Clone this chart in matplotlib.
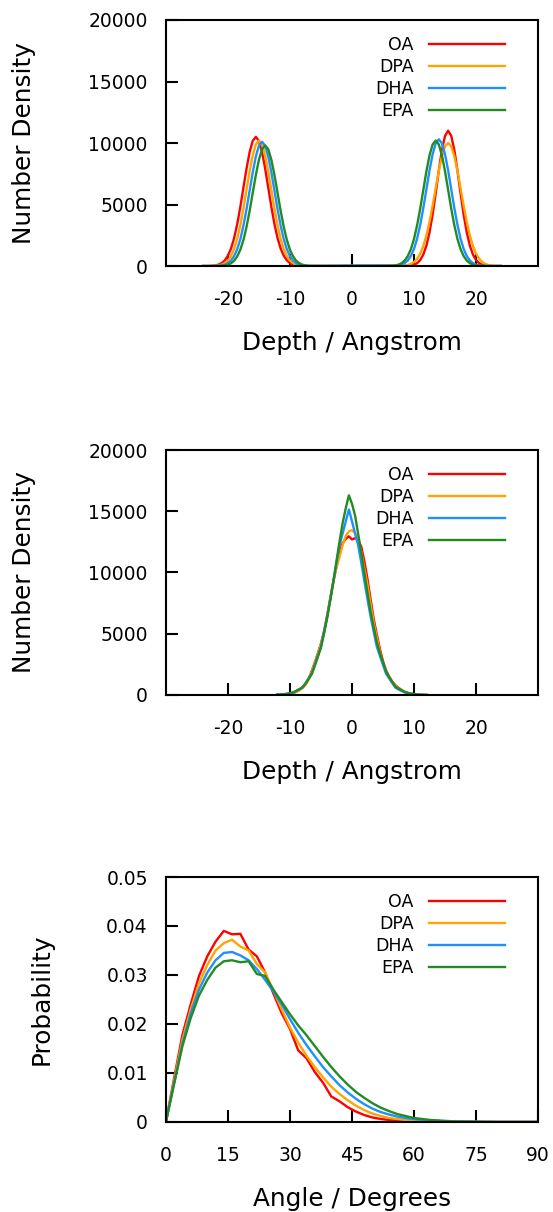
import numpy as np
import matplotlib
matplotlib.use('Agg')
import matplotlib.pyplot as plt
from matplotlib.ticker import FuncFormatter

plt.rcParams['font.family'] = 'DejaVu Sans'
plt.rcParams['axes.unicode_minus'] = False

labels = ['OA', 'DPA', 'DHA', 'EPA']
colors = ['#ff0000', '#ffa500', '#1e90ff', '#228b22']

# ---- panel 1: number density vs depth (two leaflets)
depth_left = np.arange(-24.0, -6.75, 0.5)
depth_mid = [-6.5, -5.0, -3.0, -1.0, 1.0, 3.0, 5.0, 6.5]
depth_right = np.arange(7.0, 24.25, 0.5)

oa_left = [0, 0, 5, 21, 53, 116, 242, 462, 840, 1418, 2268, 3413, 4809, 6374, 7928, 9261, 10175, 10500,
           10175, 9261, 7928, 6374, 4809, 3413, 2268, 1418, 840, 462, 242, 116, 53, 21, 5, 0, 0]
dpa_left = [0, 0, 0, 5, 20, 51, 112, 235, 449, 816, 1377, 2203, 3315, 4672, 6191, 7701, 8996, 9884, 10200,
            9884, 8996, 7701, 6191, 4672, 3315, 2203, 1377, 816, 449, 235, 112, 51, 20, 5, 0]
dha_left = [0, 0, 0, 0, 5, 20, 51, 111, 232, 444, 808, 1364, 2182, 3283, 4626, 6131, 7626, 8908, 9787, 10100,
            9787, 8908, 7626, 6131, 4626, 3283, 2182, 1364, 808, 444, 232, 111, 51, 20, 5]
epa_left = [0, 0, 0, 0, 0, 5, 20, 49, 108, 225, 431, 784, 1323, 2117, 3185, 4488, 5949, 7399, 8644, 9496, 9800,
            9496, 8644, 7399, 5949, 4488, 3185, 2117, 1323, 784, 431, 225, 108, 49, 20]

oa_mid = [0, 0, 0, 0, 0, 0, 0, 5]
dpa_mid = [0, 0, 0, 0, 0, 0, 2, 5]
dha_mid = [5, 10, 20, 35, 45, 40, 30, 15]
epa_mid = [12, 5, 3, 3, 5, 10, 20, 35]

oa_right = [0, 0, 0, 0, 16, 43, 103, 231, 484, 935, 1661, 2739, 4191, 5929, 7777, 9427, 10582, 11000,
            10582, 9427, 7777, 5929, 4191, 2739, 1661, 935, 484, 231, 103, 43, 16, 0, 0, 0, 0]
dpa_right = [0, 5, 17, 39, 84, 170, 320, 590, 1010, 1630, 2490, 3600, 4920, 6350, 7750, 8930, 9720, 10000,
             9720, 8930, 7750, 6350, 4920, 3600, 2490, 1630, 1010, 590, 320, 170, 84, 39, 17, 5, 0]
dha_right = [21, 52, 113, 237, 453, 824, 1391, 2225, 3348, 4717, 6252, 7777, 9085, 9981, 10300,
             9981, 9085, 7777, 6252, 4717, 3348, 2225, 1391, 824, 453, 237, 113, 52, 21, 5, 0, 0, 0, 0, 0]
epa_right = [51, 112, 235, 449, 816, 1377, 2203, 3315, 4672, 6191, 7701, 8996, 9884, 10200,
             9884, 8996, 7701, 6191, 4672, 3315, 2203, 1377, 816, 449, 235, 112, 51, 20, 5, 0, 0, 0, 0, 0, 0]

# ---- panel 2: number density vs depth (single peak), -12 .. 12 every 0.5
depth2 = np.arange(-12.0, 12.25, 0.5)
oa_2 = [10, 20, 35, 60, 100, 160, 260, 400, 590, 860, 1300, 1950, 2650, 3400, 4200, 5200, 6500, 7900,
        9250, 10500, 11600, 12400, 12750, 12950, 12700, 12800, 12650, 12100, 10900, 9450, 7800, 6200,
        4950, 3750, 2750, 2000, 1480, 1080, 800, 580, 400, 260, 170, 105, 65, 38, 20, 8, 0]
dpa_2 = [10, 20, 35, 60, 100, 160, 250, 380, 560, 820, 1250, 1900, 2600, 3350, 4150, 5050, 6400, 7850,
         9300, 10400, 11300, 12250, 13000, 13350, 13460, 13200, 12600, 11700, 10300, 9000, 7400, 5900,
         4700, 3550, 2600, 1950, 1450, 1050, 780, 560, 380, 250, 160, 100, 60, 35, 18, 8, 0]
dha_2 = [50, 55, 70, 100, 150, 220, 330, 450, 600, 960, 1350, 1730, 2450, 3200, 3943, 5170, 6400, 7820,
         9290, 10790, 12220, 13200, 14170, 15150, 14170, 13200, 12220, 10790, 9290, 7820, 6400, 5170,
         3943, 3200, 2450, 1730, 1350, 960, 600, 450, 330, 220, 150, 100, 60, 35, 18, 8, 0]
epa_2 = [13, 30, 47, 90, 140, 190, 320, 470, 620, 915, 1300, 1690, 2370, 3120, 3870, 5050, 6290, 7730,
         9260, 10930, 12550, 14050, 15260, 16300, 15610, 14650, 13150, 11600, 9920, 8340, 6820, 5550,
         4310, 3420, 2670, 1920, 1460, 1070, 680, 530, 380, 230, 160, 110, 60, 37, 20, 8, 0]

# ---- panel 3: probability vs angle
angle = list(range(0, 72, 2)) + [75, 80, 85, 90]
oa_3 = [0, .0090, .0178, .0240, .0298, .0338, .0368, .0390, .0383, .0384,
        .0352, .0338, .0305, .0262, .0222, .0190, .0146, .0130, .0102, .0080,
        .0052, .0042, .0030, .0021, .0014, .0009, .0006, .0004, .0003, .0002,
        .0001, .0001, 0, 0, 0, 0, 0, 0, 0, 0]
dpa_3 = [0, .0085, .0168, .0230, .0283, .0320, .0350, .0365, .0372, .0358,
         .0350, .0322, .0305, .0268, .0230, .0193, .0162, .0135, .0112, .0091,
         .0072, .0057, .0044, .0033, .0024, .0017, .0012, .0008, .0006, .0004,
         .0003, .0002, .0001, .0001, 0, 0, 0, 0, 0, 0]
dha_3 = [0, .0080, .0160, .0222, .0270, .0305, .0330, .0345, .0347, .0340,
         .0330, .0312, .0290, .0266, .0240, .0210, .0182, .0157, .0134, .0112,
         .0093, .0075, .0060, .0047, .0036, .0027, .0020, .0015, .0011, .0008,
         .0006, .0004, .0003, .0002, .0001, .0001, .00005, 0, 0, 0]
epa_3 = [0, .0078, .0155, .0212, .0258, .0290, .0315, .0328, .0330, .0326,
         .0328, .0302, .0298, .0270, .0245, .0220, .0197, .0177, .0155, .0133,
         .0112, .0093, .0076, .0061, .0049, .0038, .0029, .0022, .0016, .0012,
         .0008, .0006, .0004, .0003, .0002, .0001, .00005, 0, 0, 0]

depth1 = np.concatenate([depth_left, depth_mid, depth_right])
panel1 = [oa_left + oa_mid + oa_right, dpa_left + dpa_mid + dpa_right,
          dha_left + dha_mid + dha_right, epa_left + epa_mid + epa_right]
panel2 = [oa_2, dpa_2, dha_2, epa_2]
panel3 = [oa_3, dpa_3, dha_3, epa_3]

fig = plt.figure(figsize=(5.53, 12.12), dpi=100)
ax1 = fig.add_axes([0.300, 0.7805, 0.673, 0.203])
ax2 = fig.add_axes([0.300, 0.4266, 0.673, 0.2021])
ax3 = fig.add_axes([0.300, 0.0743, 0.673, 0.2021])

for ax, x, series in [(ax1, depth1, panel1), (ax2, depth2, panel2), (ax3, angle, panel3)]:
    for y, lab, col in zip(series, labels, colors):
        ax.plot(x, y, color=col, lw=1.7, label=lab)


def style(ax, xlabel, ylabel):
    ax.tick_params(direction='in', length=8.5, width=1.5, labelsize=13.5, top=False, right=False)
    ax.tick_params(axis='x', pad=17)
    ax.tick_params(axis='y', pad=13)
    for s in ax.spines.values():
        s.set_linewidth(1.5)
    ax.set_xlabel(xlabel, fontsize=17.8, labelpad=16)
    ax.set_ylabel(ylabel, fontsize=17.8, labelpad=38)
    ax.yaxis.set_major_formatter(FuncFormatter(lambda v, p: '%g' % round(v, 6)))
    ax.xaxis.set_major_formatter(FuncFormatter(lambda v, p: '%g' % v))
    ax.legend(loc='upper right', bbox_to_anchor=(0.911, 0.934), frameon=False, markerfirst=False,
              fontsize=12.5, handlelength=4.4, handletextpad=0.86, labelspacing=0.23,
              borderpad=0, borderaxespad=0)


for ax in (ax1, ax2):
    ax.set_xlim(-30, 30)
    ax.set_ylim(0, 20000)
    ax.set_xticks([-20, -10, 0, 10, 20])
    ax.set_yticks([0, 5000, 10000, 15000, 20000])
    style(ax, 'Depth / Angstrom', 'Number Density')

ax3.set_xlim(0, 90)
ax3.set_ylim(0, 0.05)
ax3.set_xticks([0, 15, 30, 45, 60, 75, 90])
ax3.set_yticks([0, 0.01, 0.02, 0.03, 0.04, 0.05])
style(ax3, 'Angle / Degrees', 'Probability')

fig.savefig('out.png', dpi=100)
